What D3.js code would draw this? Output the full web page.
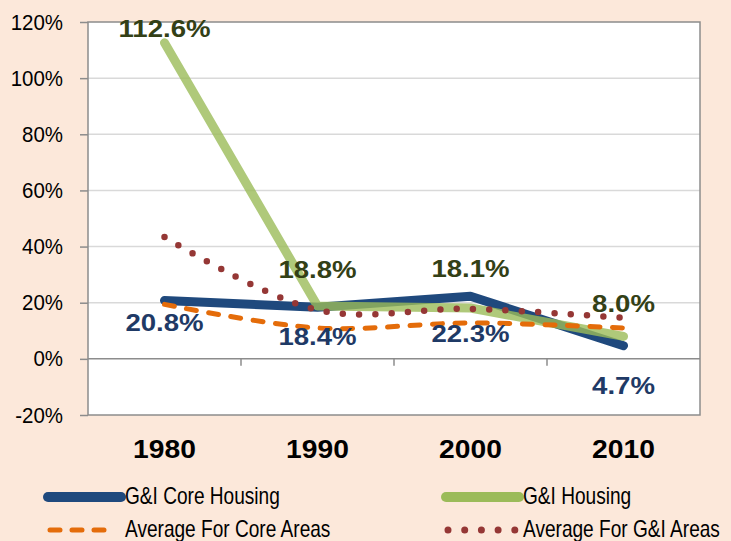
<!DOCTYPE html>
<html>
<head>
<meta charset="utf-8">
<script src="https://cdn.jsdelivr.net/npm/d3@7"></script>
<style>
  body { margin: 0; background: #FCE8DA; }
  text { font-family: "Liberation Sans", Arial, sans-serif; }
</style>
</head>
<body>
<div id="chart"></div>
<script>
// chart values
const years = ["1980", "1990", "2000", "2010"];
const coreHousing = [20.8, 18.4, 22.3, 4.7];
const giHousing = [112.6, 18.8, 18.1, 8.0];
const avgCore = [19.4, 11.0, 12.8, 11.0];
const avgGI = [43.4, 17.4, 17.8, 14.6];
const yTicks = [-20, 0, 20, 40, 60, 80, 100, 120];

const svg = d3.select("#chart").append("svg")
  .attr("width", 731).attr("height", 541);

svg.append("rect").attr("width", 731).attr("height", 541).attr("fill", "#FCE8DA");

const plot = { left: 88, right: 700, top: 22, bottom: 415 };

const x = d3.scaleBand().domain(years).range([plot.left, plot.right]);
const y = d3.scaleLinear().domain([-20, 120]).range([plot.bottom, plot.top]);
const cx = d => x(d) + x.bandwidth() / 2;

// plot area
svg.append("rect")
  .attr("x", plot.left).attr("y", plot.top)
  .attr("width", plot.right - plot.left).attr("height", plot.bottom - plot.top)
  .attr("fill", "#fff");

// gridlines
svg.append("g").selectAll("line")
  .data(yTicks.filter(t => t !== 0 && t !== -20 && t !== 120))
  .join("line")
  .attr("x1", plot.left).attr("x2", plot.right)
  .attr("y1", d => y(d)).attr("y2", d => y(d))
  .attr("stroke", "#D9D9D9").attr("stroke-width", 1.5);

// border
svg.append("rect")
  .attr("x", plot.left).attr("y", plot.top)
  .attr("width", plot.right - plot.left).attr("height", plot.bottom - plot.top)
  .attr("fill", "none").attr("stroke", "#8C8C8C").attr("stroke-width", 1.5);

// y axis
const yAxis = svg.append("g")
  .attr("transform", `translate(${plot.left},0)`)
  .call(d3.axisLeft(y).tickValues(yTicks).tickSize(8).tickPadding(17).tickFormat(d => d + "%"));
yAxis.select(".domain").remove();
yAxis.selectAll(".tick line").attr("stroke", "#8C8C8C").attr("stroke-width", 1.5);
yAxis.selectAll(".tick text")
  .attr("font-size", 22).attr("fill", "#000")
  .attr("font-family", "Liberation Sans, Arial, sans-serif")
  .attr("transform", "translate(-25,0) scale(0.93,1) translate(25,0)");

// x axis at zero with ticks between categories
const xAxis = svg.append("g");
xAxis.append("line")
  .attr("x1", plot.left).attr("x2", plot.right)
  .attr("y1", y(0)).attr("y2", y(0))
  .attr("stroke", "#8C8C8C").attr("stroke-width", 1.5);
xAxis.selectAll(".sep")
  .data(years.slice(1))
  .join("line")
  .attr("x1", d => x(d)).attr("x2", d => x(d))
  .attr("y1", y(0)).attr("y2", y(0) + 7)
  .attr("stroke", "#8C8C8C").attr("stroke-width", 1.5);

svg.append("g").selectAll("text")
  .data(years)
  .join("text")
  .attr("transform", d => `translate(${cx(d)},458) scale(1.13,1)`)
  .attr("text-anchor", "middle")
  .attr("font-size", 25).attr("font-weight", "bold").attr("fill", "#000")
  .text(d => d);

// lines
const straight = d3.line().x((d, i) => cx(years[i])).y(d => y(d));
const smooth = d3.line().x((d, i) => cx(years[i])).y(d => y(d)).curve(d3.curveCatmullRom.alpha(0.5));

svg.append("path").datum(coreHousing)
  .attr("d", straight).attr("fill", "none")
  .attr("stroke", "#1F497D").attr("stroke-width", 9)
  .attr("stroke-linecap", "round").attr("stroke-linejoin", "round");

svg.append("path").datum(giHousing)
  .attr("d", straight).attr("fill", "none")
  .attr("stroke", "#9BBB59").attr("stroke-opacity", 0.8).attr("stroke-width", 9)
  .attr("stroke-linecap", "round").attr("stroke-linejoin", "round");

svg.append("path").datum(avgCore)
  .attr("d", smooth).attr("fill", "none")
  .attr("stroke", "#E46C0A").attr("stroke-width", 5)
  .attr("stroke-dasharray", "10,12.5").attr("stroke-linecap", "round");

svg.append("path").datum(avgGI)
  .attr("d", smooth).attr("fill", "none")
  .attr("stroke", "#953735").attr("stroke-width", 6.5)
  .attr("stroke-dasharray", "0,16.3").attr("stroke-linecap", "round");

// data labels
const blueLabels = [
  { i: 0, dy: 24 }, { i: 1, dy: 31 }, { i: 2, dy: 39 }, { i: 3, dy: 42 }
];
const greenLabels = [
  { i: 0, dy: -12 }, { i: 1, dy: -34 }, { i: 2, dy: -37 }, { i: 3, dy: -31 }
];

function addLabels(vals, specs, color) {
  svg.append("g").selectAll("text")
    .data(specs)
    .join("text")
    .attr("transform", d => `translate(${cx(years[d.i])},${y(vals[d.i]) + d.dy}) scale(1.15,1)`)
    .attr("text-anchor", "middle").attr("dominant-baseline", "middle")
    .attr("font-size", 24).attr("font-weight", "bold").attr("fill", color)
    .text(d => vals[d.i].toFixed(1) + "%");
}
addLabels(coreHousing, blueLabels, "#1F3A66");
addLabels(giHousing, greenLabels, "#334016");

// legend
const legend = svg.append("g");
const items = [
  { name: "G&I Core Housing", x: 48, y: 497, color: "#1F497D", w: 10, dash: null, x2: 121 },
  { name: "G&I Housing", x: 446, y: 497, color: "#9BBB59", w: 10, dash: null, x2: 519 },
  { name: "Average For Core Areas", x: 50, y: 530, color: "#E46C0A", w: 5, dash: "10,12", x2: 112 },
  { name: "Average For G&I Areas", x: 448, y: 530, color: "#953735", w: 7, dash: "0,16.7", x2: 516 }
];
items.forEach((it, k) => {
  legend.append("line")
    .attr("x1", it.x).attr("x2", it.x2).attr("y1", it.y).attr("y2", it.y)
    .attr("stroke", it.color).attr("stroke-width", it.w)
    .attr("stroke-linecap", "round")
    .attr("stroke-dasharray", it.dash);
  legend.append("text")
    .attr("transform", `translate(${k % 2 === 0 ? 125 : 523},${it.y + 1}) scale(0.83,1)`)
    .attr("dominant-baseline", "middle")
    .attr("font-size", 23).attr("fill", "#000")
    .text(it.name);
});
</script>
</body>
</html>
